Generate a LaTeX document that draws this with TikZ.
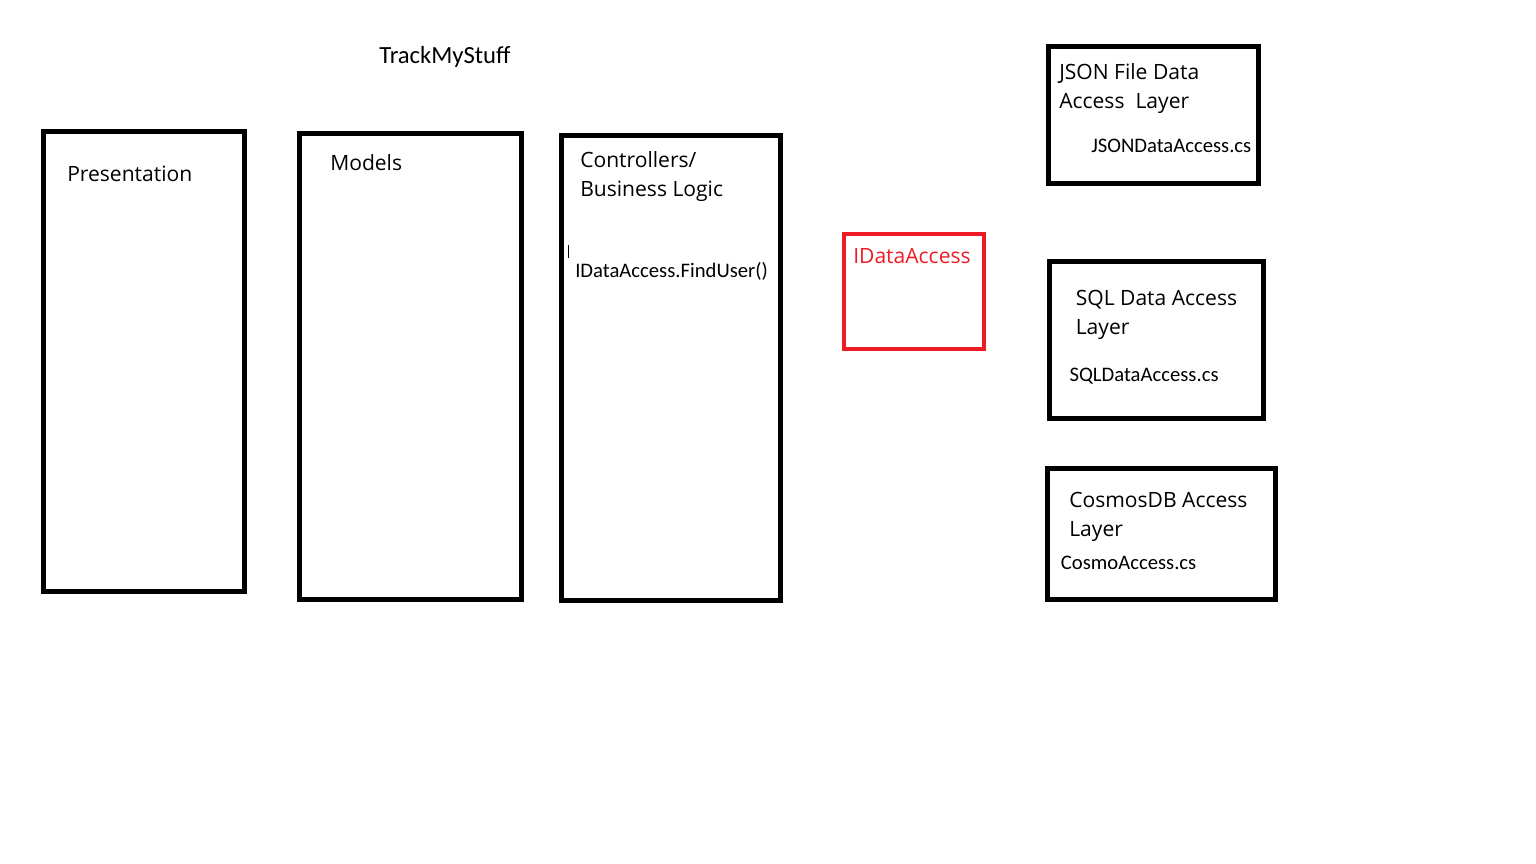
\documentclass[tikz,border=0pt]{standalone}
\usepackage{fontspec}
\usepackage{tikz}
\setmainfont{Carlito}
\newfontfamily\headfont{Open Sans}
\definecolor{paintred}{RGB}{237,28,36}
\tikzset{layer/.style={draw, line width=3.75pt, inner sep=0}}
\tikzset{iface/.style={draw=paintred, line width=3pt, inner sep=0}}
\tikzset{head/.style={anchor=base west, inner sep=0, align=left, font=\headfont\fontsize{15.8}{21.75}\selectfont}}
\tikzset{file/.style={anchor=base west, inner sep=0, font=\fontsize{15.5}{18}\selectfont}}

\begin{document}
\begin{tikzpicture}[x=0.75pt, y=-0.75pt]
  \useasboundingbox (0, 0) rectangle (1536, 864);

  \node[anchor=base west, inner sep=0, font=\fontsize{18.5}{22}\selectfont] at (379, 63) (title) {TrackMyStuff};

  \node[layer, minimum width=150.75pt, minimum height=345pt] at (144, 361.5) (pres) {};
  \node[head] at (67, 181) (presL) {Presentation};

  \node[layer, minimum width=166.5pt, minimum height=349.5pt] at (410.5, 366.5) (models) {};
  \node[head] at (330, 170) (modelsL) {Models};

  \node[layer, minimum width=164.25pt, minimum height=348.75pt] at (671, 368) (ctrl) {};
  \node[head] at (580, 196.7) (ctrlL) {Controllers/\\Business Logic};
  \draw[line width=0.75pt] (568, 245) -- (568, 257.7);
  \node[file] at (575, 277) (call) {IDataAccess.FindUser()};

  \node[iface, minimum width=105pt, minimum height=86.25pt] at (914, 291.5) (idata) {};
  \node[head, text=paintred] at (853, 263.3) (idataL) {IDataAccess};

  % data access layers
  \node[layer, minimum width=157.5pt, minimum height=102.75pt] at (1153.5, 115) (json) {};
  \node[head] at (1059, 108.3) (jsonL) {JSON File Data\\Access\ \ Layer};
  \node[file] at (1091, 152.3) (jsonF) {JSONDataAccess.cs};

  \node[layer, minimum width=160.5pt, minimum height=117.75pt] at (1156.5, 340) (sql) {};
  \node[head] at (1075.5, 334) (sqlL) {SQL Data Access\\Layer};
  \node[file] at (1069.3, 381) (sqlF) {SQLDataAccess.cs};

  \node[layer, minimum width=171pt, minimum height=98.25pt] at (1161.5, 534) (cosmos) {};
  \node[head] at (1069, 536) (cosmosL) {CosmosDB Access\\Layer};
  \node[file] at (1060.7, 569.3) (cosmosF) {CosmoAccess.cs};
\end{tikzpicture}
\end{document}
